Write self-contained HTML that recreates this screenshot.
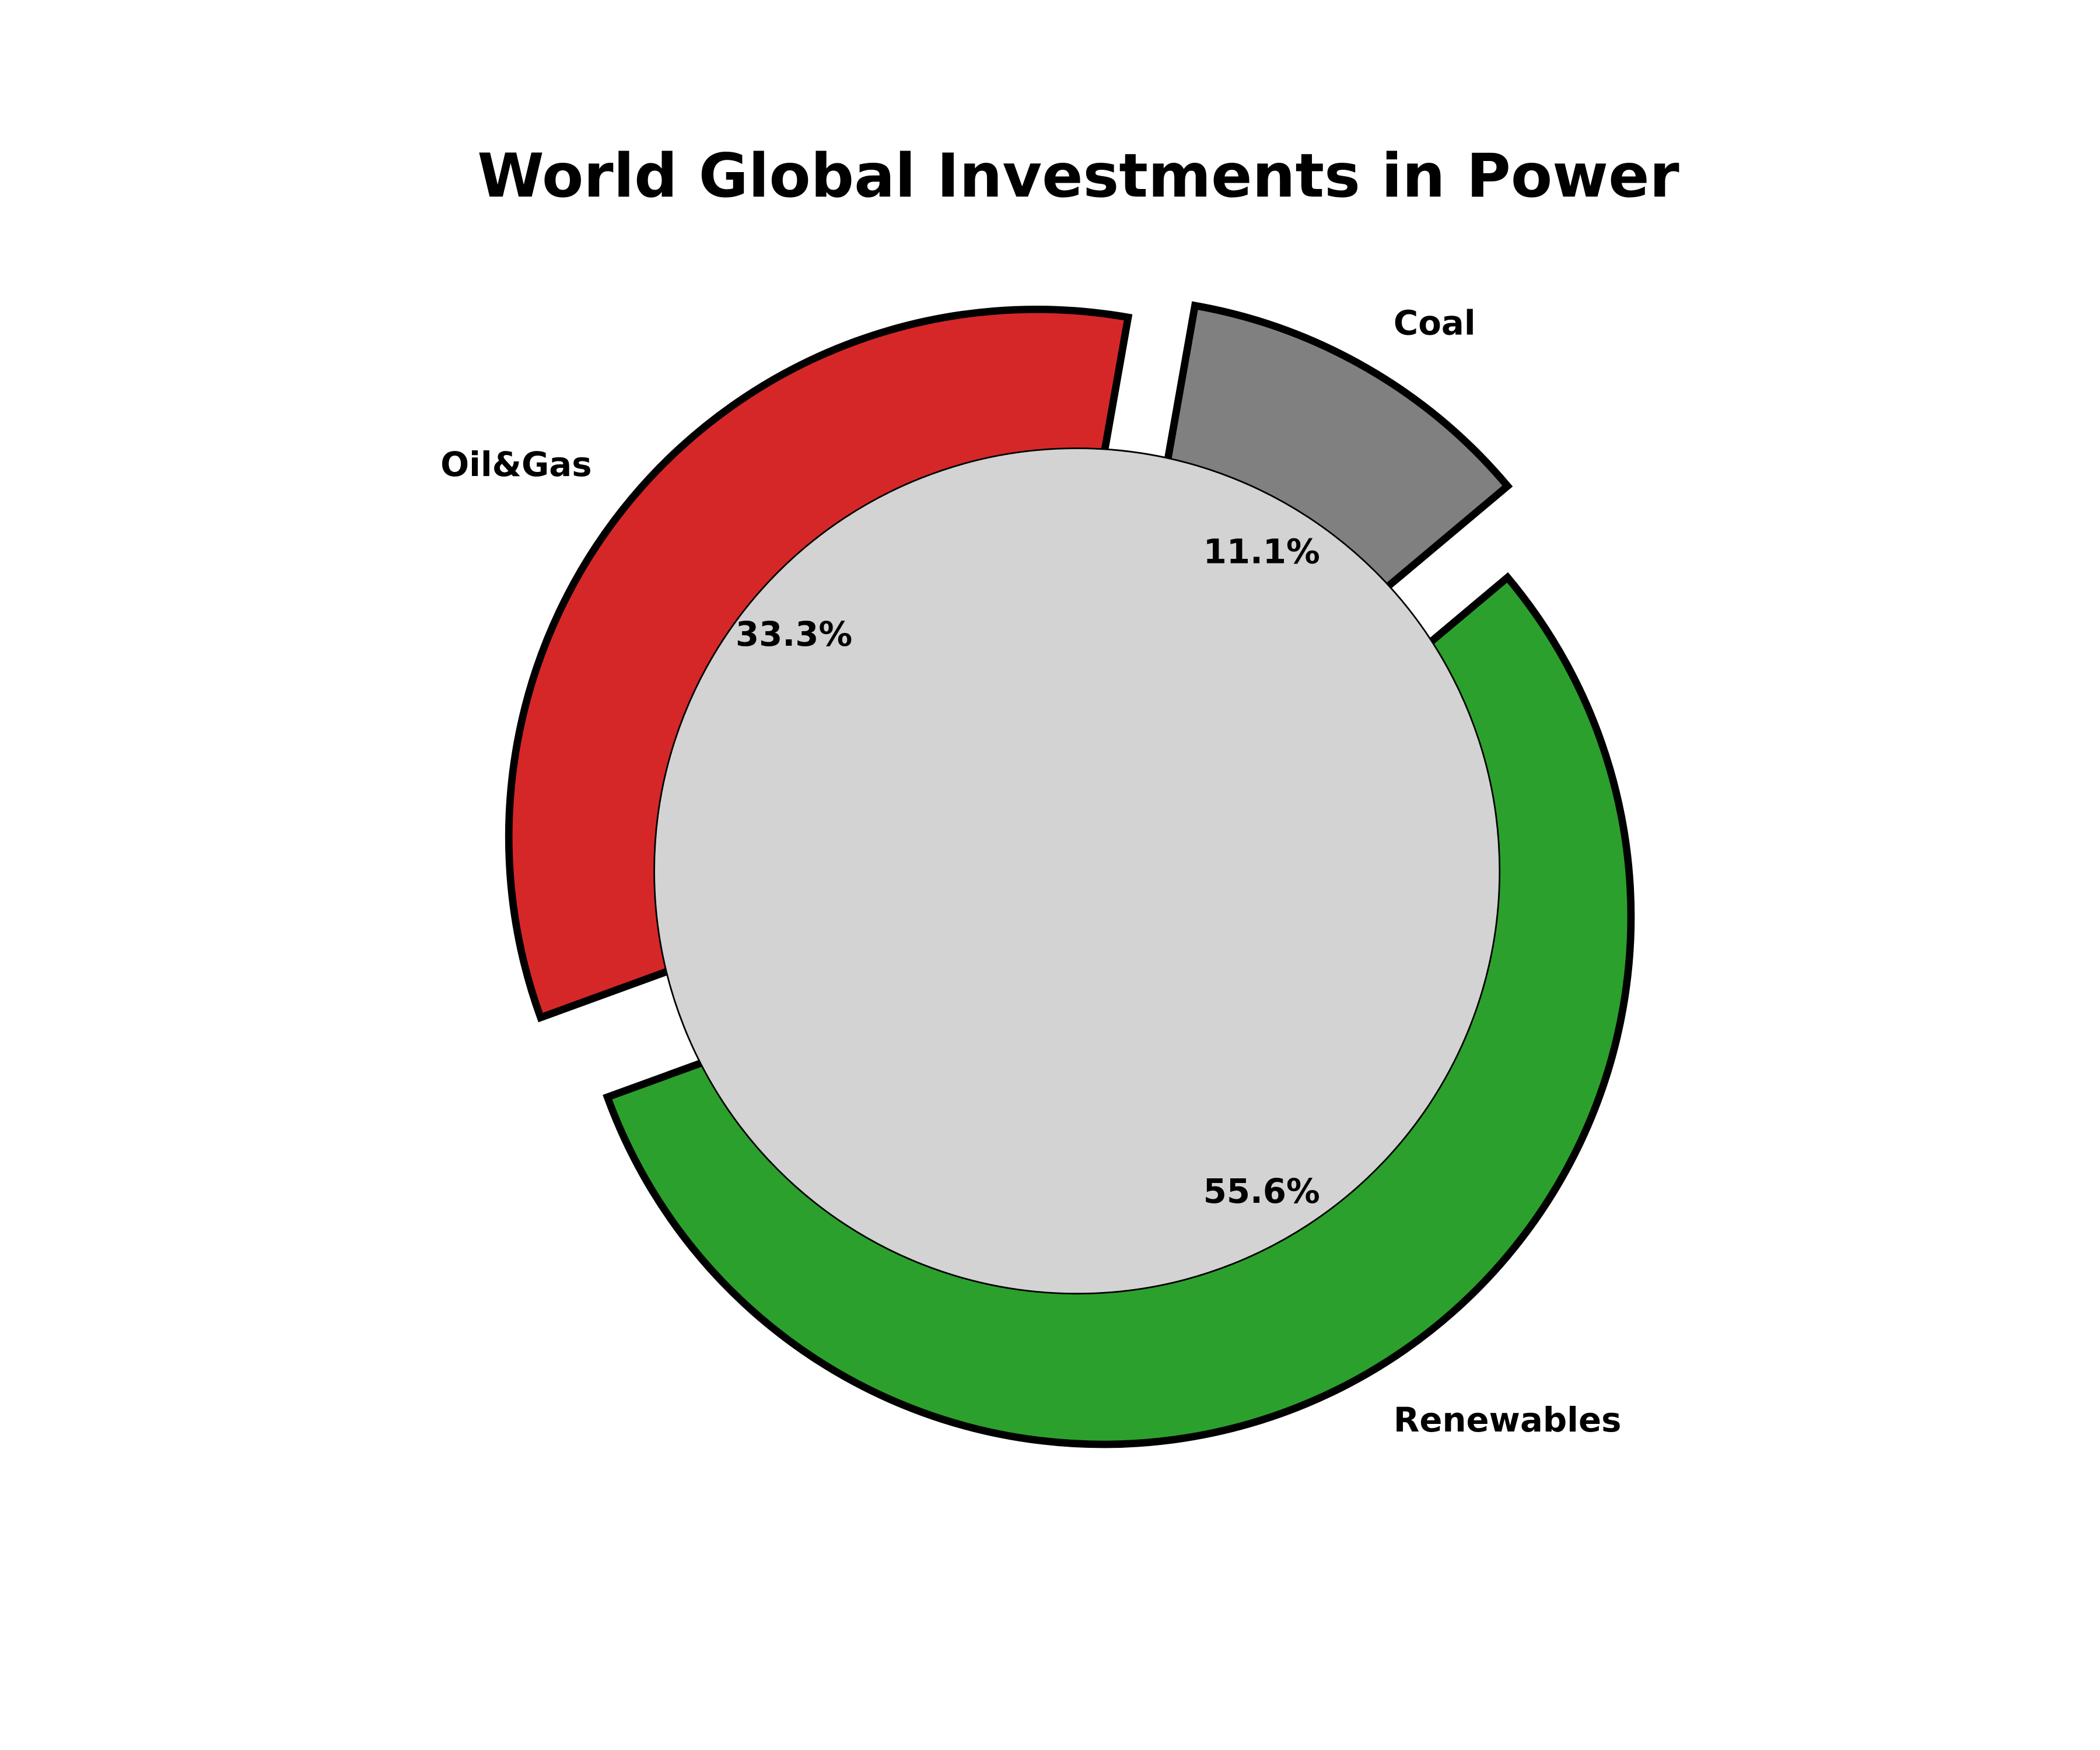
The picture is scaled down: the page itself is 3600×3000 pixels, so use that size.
<!DOCTYPE html>
<html><head><meta charset="utf-8"><style>
html,body{margin:0;padding:0;background:#fff;}
svg{display:block;}
text{font-family:"DejaVu Sans","Liberation Sans",sans-serif;font-weight:bold;fill:#000;}
</style></head><body>
<svg id="chart" width="3600" height="3000" viewBox="0 0 1560 1300" xmlns="http://www.w3.org/2000/svg">
<rect width="1560" height="1300" fill="#fff"/>
<text x="801" y="146" font-size="45" text-anchor="middle">World Global Investments in Power</text>
<g id="wedges"></g>
<circle cx="800" cy="647" r="314" fill="#d3d3d3" stroke="#000" stroke-width="1.2"/>
<g id="labels"></g>
</svg>
<script>
const categories = ["Coal", "Oil&Gas", "Renewables"];
const values = [1, 3, 5];
const colors = ["#808080", "#d62728", "#2ca02c"];
const explode = [0.1, 0.1, 0.1];

const CX = 800, CY = 647, R = 392, START = 40;
const NS = "http://www.w3.org/2000/svg";
const total = values.reduce((a, b) => a + b, 0);
function pt(cx, cy, r, deg) {
  const a = deg * Math.PI / 180;
  return [cx + r * Math.cos(a), cy - r * Math.sin(a)];
}
const wg = document.getElementById('wedges');
const lg = document.getElementById('labels');
let ang = START;
values.forEach((v, i) => {
  const span = v / total * 360;
  const a0 = ang, a1 = ang + span, mid = (a0 + a1) / 2;
  const [cx, cy] = pt(CX, CY, explode[i] * R, mid);
  const p0 = pt(cx, cy, R, a0), p1 = pt(cx, cy, R, a1);
  const large = span > 180 ? 1 : 0;
  const path = document.createElementNS(NS, 'path');
  path.setAttribute('d', `M${cx},${cy} L${p0[0]},${p0[1]} A${R},${R} 0 ${large} 0 ${p1[0]},${p1[1]} Z`);
  path.setAttribute('fill', colors[i]);
  path.setAttribute('stroke', '#000');
  path.setAttribute('stroke-width', '5.5');
  path.setAttribute('stroke-linejoin', 'miter');
  
  
  wg.appendChild(path);

  const lp = pt(cx, cy, R * 1.1, mid);
  const lab = document.createElementNS(NS, 'text');
  lab.setAttribute('x', lp[0]);
  lab.setAttribute('y', lp[1] + 9);
  lab.setAttribute('font-size', '25');
  lab.setAttribute('text-anchor', Math.cos(mid * Math.PI / 180) >= 0 ? 'start' : 'end');
  lab.textContent = categories[i];
  
  
  lg.appendChild(lab);

  const pp = pt(cx, cy, R * 0.6, mid);
  const pct = document.createElementNS(NS, 'text');
  pct.setAttribute('x', pp[0]);
  pct.setAttribute('y', pp[1] + 9);
  pct.setAttribute('font-size', '25');
  pct.setAttribute('text-anchor', 'middle');
  pct.textContent = (v / total * 100).toFixed(1) + '%';
  
  
  lg.appendChild(pct);
  ang = a1;
});
</script>
</body></html>
